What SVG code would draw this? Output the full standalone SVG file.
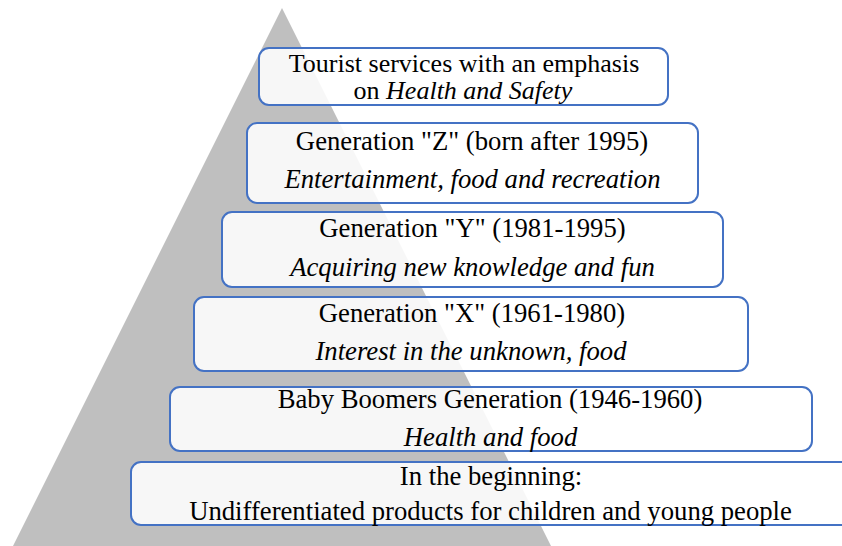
<svg xmlns="http://www.w3.org/2000/svg" width="842" height="546" viewBox="0 0 842 546">
<rect width="842" height="546" fill="#fff"/>
<polygon id="pyramid" points="282,8 13,546 551,546" fill="#bfbfbf"/>
<g id="connectors"/>
<g fill="#ffffff" fill-opacity="0.88" stroke="#4472c4" stroke-width="2">
<rect id="box1" x="259" y="48" width="409" height="57" rx="10"/>
<rect id="box2" x="247" y="123" width="451" height="80" rx="10"/>
<rect id="box3" x="222" y="212" width="501" height="75" rx="10"/>
<rect id="box4" x="194" y="297" width="554" height="74" rx="10"/>
<rect id="box5" x="170" y="387" width="642" height="64" rx="10"/>
<rect id="box6" x="131" y="462" width="740" height="63" rx="10"/>
</g>
<g font-family="'Liberation Serif', 'Times New Roman', serif" font-size="26.7" text-anchor="middle" fill="#000">
<text id="n1a" x="464" y="72" font-size="26">Tourist services with an emphasis</text>
<text id="n1b" x="463" y="99" font-size="26">on <tspan font-style="italic">Health and Safety</tspan></text>
<text id="n2a" x="472" y="150">Generation "Z" (born after 1995)</text>
<text id="n2b" x="472.5" y="188" font-style="italic">Entertainment, food and recreation</text>
<text id="n3a" x="472.5" y="237">Generation "Y" (1981-1995)</text>
<text id="n3b" x="472.5" y="276" font-style="italic">Acquiring new knowledge and fun</text>
<text id="n4a" x="472" y="322">Generation "X" (1961-1980)</text>
<text id="n4b" x="471" y="360" font-style="italic">Interest in the unknown, food</text>
<text id="n5a" x="490" y="408">Baby Boomers Generation (1946-1960)</text>
<text id="n5b" x="490.5" y="446" font-style="italic">Health and food</text>
<text id="n6a" x="491" y="485">In the beginning:</text>
<text id="n6b" x="490.5" y="519.5">Undifferentiated products for children and young people</text>
</g>
</svg>
